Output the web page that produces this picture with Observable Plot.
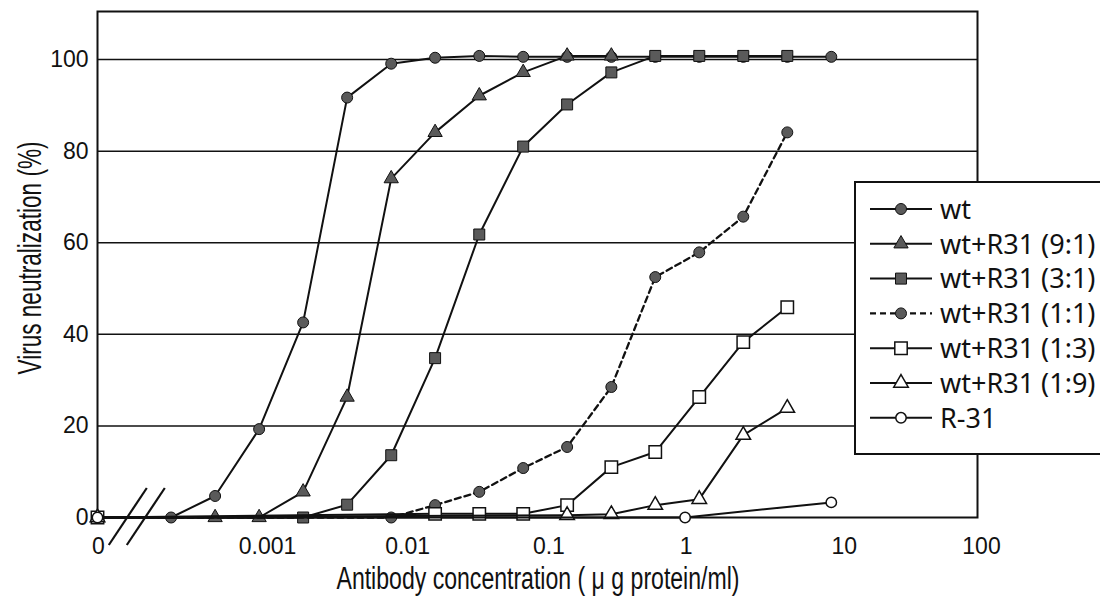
<!DOCTYPE html>
<html><head><meta charset="utf-8">
<script src="https://cdn.jsdelivr.net/npm/d3@7"></script>
<script src="https://cdn.jsdelivr.net/npm/@observablehq/plot@0.6"></script>
<style>body{margin:0;background:#fff} #chart svg{display:block}</style>
</head><body><div id="chart"></div>
<script>
// "0" concentration is drawn at the left end of the broken log axis
const ZERO = 9.57e-5;
const xTicks = [ZERO, 0.001, 0.01, 0.1, 1, 10, 100];
const yTicks = [0, 20, 40, 60, 80, 100];
const gridTicks = [20, 40, 60, 80, 100];
const xTitle = "Antibody concentration ( μ g protein/ml)";
const yTitle = "Virus neutralization (%)";

const seriesNames = ["wt", "wt+R31 (9:1)", "wt+R31 (3:1)", "wt+R31 (1:1)", "wt+R31 (1:3)", "wt+R31 (1:9)", "R-31"];

const wtConc  = [0, 0.000305, 0.00061, 0.00122, 0.00244, 0.00488, 0.00977, 0.0195, 0.0391, 0.0781, 0.156, 0.313, 0.625, 1.25, 2.5, 5, 10];
const wtVal   = [0, 0, 4.7, 19.3, 42.6, 91.7, 99.1, 100.4, 100.8, 100.6, 100.6, 100.6, 100.6, 100.6, 100.6, 100.6, 100.6];
const w91Conc = [0, 0.00061, 0.00122, 0.00244, 0.00488, 0.00977, 0.0195, 0.0391, 0.0781, 0.156, 0.313];
const w91Val  = [0, 0, 0, 5.6, 26.3, 74.0, 84.1, 92.1, 97.2, 100.8, 100.8];
const w31Conc = [0, 0.00244, 0.00488, 0.00977, 0.0195, 0.0391, 0.0781, 0.156, 0.313, 0.625, 1.25, 2.5, 5];
const w31Val  = [0, 0, 2.8, 13.6, 34.8, 61.8, 81.0, 90.2, 97.2, 100.8, 100.8, 100.8, 100.8];
const w11Conc = [0, 0.00977, 0.0195, 0.0391, 0.0781, 0.156, 0.313, 0.625, 1.25, 2.5, 5];
const w11Val  = [0, 0, 2.7, 5.6, 10.8, 15.4, 28.5, 52.5, 57.9, 65.7, 84.1];
const w13Conc = [0, 0.0195, 0.0391, 0.0781, 0.156, 0.313, 0.625, 1.25, 2.5, 5];
const w13Val  = [0, 0.8, 0.8, 0.8, 2.7, 11.0, 14.3, 26.3, 38.3, 45.9];
const w19Conc = [0, 0.156, 0.313, 0.625, 1.25, 2.5, 5];
const w19Val  = [0, 0.5, 0.7, 2.7, 4.0, 18.0, 23.9];
const r31Conc = [0, 1, 10];
const r31Val  = [0, 0, 3.3];

const concs = [wtConc, w91Conc, w31Conc, w11Conc, w13Conc, w19Conc, r31Conc];
const vals  = [wtVal, w91Val, w31Val, w11Val, w13Val, w19Val, r31Val];
const symbols = ["circle", "triangle", "square", "circle", "square", "triangle", "circle"];
const filled  = [true, true, true, true, false, false, false];
const dashed  = [false, false, false, true, false, false, false];

// layout / style (not data)
const radii   = [5.5, 5.3, 6.2, 5.5, 7, 5.4, 5.2];
const tickLabelDx = [1, 21, 15, 10, 1, 13, 4];
const FILL = "#5a5a5a", INK = "#111";
const TICK_FONT = "'Liberation Sans', 'Noto Sans', sans-serif";
const TITLE_FONT = "'Liberation Sans Narrow', 'Liberation Sans', sans-serif";

const series = seriesNames.map((name, i) => ({
  name, symbol: symbols[i], filled: filled[i], r: radii[i], dashed: dashed[i],
  rows: concs[i].map((c, j) => ({x: c === 0 ? ZERO : c, y: vals[i][j]}))
}));

const marks = [
  Plot.gridY(gridTicks, {stroke: INK, strokeOpacity: 1, strokeWidth: 1.5}),
  Plot.frame({stroke: INK, strokeWidth: 2}),
  Plot.axisY(yTicks, {tickSize: 0, tickPadding: 9, fontSize: 23, label: null})
];
xTicks.forEach((t, i) => marks.push(Plot.axisX([t], {tickSize: 0, tickPadding: 20, fontSize: 23, label: null,
  dx: tickLabelDx[i], tickFormat: d => d === ZERO ? "0" : String(d)})));
for (const s of series) {
  marks.push(Plot.line(s.rows, {x: "x", y: "y", stroke: INK, strokeWidth: s.dashed ? 2.3 : 2,
    strokeDasharray: s.dashed ? "6,4" : null}));
  marks.push(Plot.dot(s.rows, {x: "x", y: "y", symbol: s.symbol, r: s.r,
    fill: s.filled ? FILL : "white", stroke: INK, strokeWidth: s.filled ? 1 : 1.5}));
}

const plot = Plot.plot({
  width: 1100, height: 596,
  marginLeft: 97, marginRight: 123, marginTop: 11, marginBottom: 79,
  style: {fontFamily: TICK_FONT, fontSize: "23px", color: INK, background: "white"},
  x: {type: "log", domain: [ZERO, 100]},
  y: {domain: [0, 110.5]},
  marks
});
document.getElementById("chart").append(plot);

const svg = d3.select(plot);
const xs = plot.scale("x"), ys = plot.scale("y");

// axis break marks "//"
const y0 = ys.apply(0);
const mid = (xs.apply(ZERO) + xs.apply(wtConc[1])) / 2 + 3;
for (const cx of [mid - 9, mid + 9]) {
  svg.append("line").attr("x1", cx - 19).attr("y1", y0 + 28).attr("x2", cx + 19).attr("y2", y0 - 29)
    .attr("stroke", INK).attr("stroke-width", 2.2);
}

// axis titles
const xr = xs.range;
svg.append("text").text(xTitle)
  .attr("x", (xr[0] + xr[1]) / 2 + 1).attr("y", 589)
  .attr("text-anchor", "middle").attr("font-size", 31).attr("font-family", TITLE_FONT)
  .attr("textLength", 403).attr("lengthAdjust", "spacingAndGlyphs").attr("fill", INK);
svg.append("text").text(yTitle)
  .attr("transform", "translate(41,258) rotate(-90)")
  .attr("text-anchor", "middle").attr("font-size", 34).attr("font-family", TITLE_FONT)
  .attr("textLength", 233).attr("lengthAdjust", "spacingAndGlyphs").attr("fill", INK);

// legend
const lg = svg.append("g");
lg.append("rect").attr("x", 855).attr("y", 182).attr("width", 260).attr("height", 272)
  .attr("fill", "white").attr("stroke", INK).attr("stroke-width", 2);
const symMap = {circle: d3.symbolCircle, square: d3.symbolSquare, triangle: d3.symbolTriangle};
series.forEach((s, i) => {
  const yy = 209 + 34.8 * i;
  lg.append("line").attr("x1", 870).attr("x2", 932).attr("y1", yy).attr("y2", yy)
    .attr("stroke", INK).attr("stroke-width", s.dashed ? 2.3 : 2).attr("stroke-dasharray", s.dashed ? "6,4" : null);
  lg.append("path").attr("d", d3.symbol(symMap[s.symbol], Math.PI * s.r * s.r)())
    .attr("transform", `translate(901,${yy})`)
    .attr("fill", s.filled ? FILL : "white").attr("stroke", INK).attr("stroke-width", s.filled ? 1 : 1.5);
  lg.append("text").text(s.name).attr("x", 940).attr("y", yy).attr("dy", "0.36em")
    .attr("text-anchor", "start").attr("font-size", 27).attr("font-family", "'Noto Sans', sans-serif").attr("fill", INK);
});
</script>
</body></html>
